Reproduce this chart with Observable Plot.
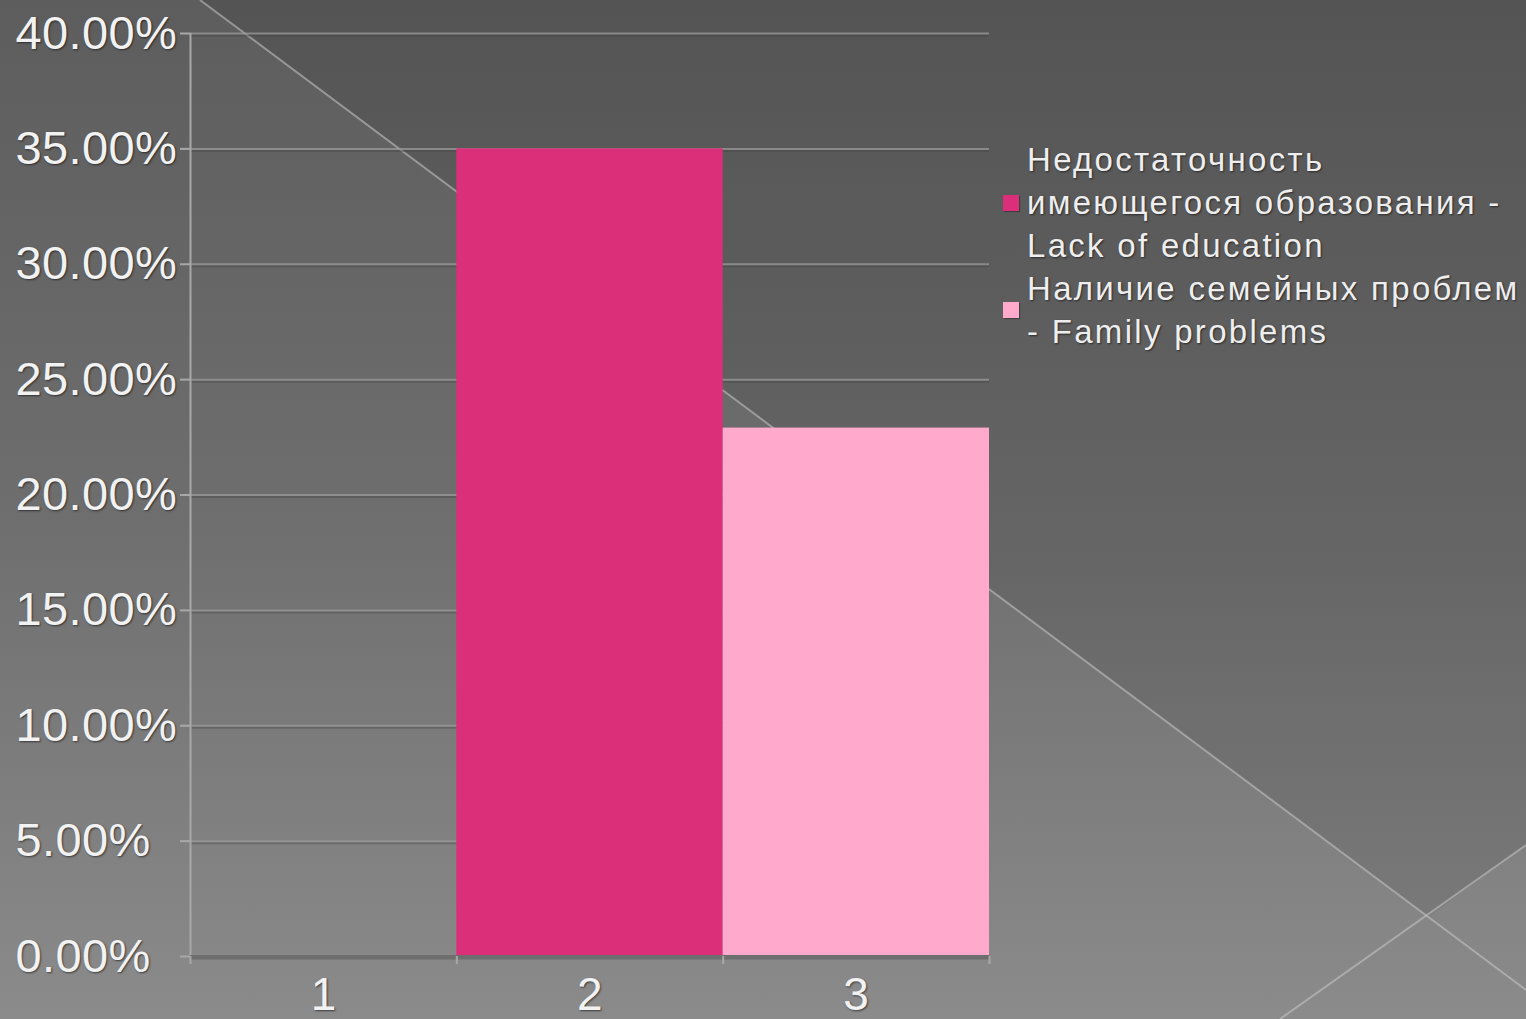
<!DOCTYPE html>
<html>
<head>
<meta charset="utf-8">
<script src="https://cdn.jsdelivr.net/npm/d3@7"></script>
<script src="https://cdn.jsdelivr.net/npm/@observablehq/plot@0.6"></script>
<style>
  html, body { margin: 0; padding: 0; }
  #stage {
    position: relative; width: 1526px; height: 1019px; overflow: hidden;
    background: linear-gradient(to bottom, #5d5d5d 0%, #6e6e6e 50%, #8b8b8b 100%);
    font-family: "Liberation Sans", Arial, sans-serif;
  }
  #deco { position: absolute; left: 0; top: 0; }
  #chart { position: absolute; left: 0; top: 0; }
  #chart svg text { text-shadow: 1px 1px 2px rgba(0,0,0,0.55); letter-spacing: 0.4px; }
  #legend {
    position: absolute; left: 1003px; top: 138px;
    color: #eeeeee; font-size: 33px; line-height: 43px;
    text-shadow: 1px 1px 2px rgba(0,0,0,0.55);
    letter-spacing: 2.3px;
  }
  .item { display: flex; align-items: center; }
  .sw { width: 16px; height: 16px; margin-right: 8px; flex: none; box-shadow: 1px 1px 1px rgba(0,0,0,0.3); }
  .lines { white-space: nowrap; }
</style>
</head>
<body>
<div id="stage">
  <svg id="deco" width="1526" height="1019"></svg>
  <div id="chart"></div>
  <div id="legend"></div>
</div>
<script>
// ---- data ----
const categories = [1, 2, 3];
const seriesNames = [
  "Недостаточность имеющегося образования - Lack of education",
  "Наличие семейных проблем - Family problems"
];
const seriesLegendLines = [
  ["Недостаточность", "имеющегося образования -", "Lack of education"],
  ["Наличие семейных проблем", "- Family problems"]
];
const seriesColors = ["#db2f7a", "#ffaacc"];
const barCategory = [2, 3];
const barValues = [0.35, 0.229];
const yTicks = [0, 0.05, 0.10, 0.15, 0.20, 0.25, 0.30, 0.35, 0.40];
const xBoundaries = [0.5, 1.5, 2.5, 3.5];

// ---- decorative background ----
const W = 1526, H = 1019;
const deco = d3.select("#deco");
deco.append("polygon")
  .attr("points", "200,0 1526,0 1526,845 1428,917")
  .attr("fill", "rgba(0,0,0,0.09)");
deco.append("line").attr("x1", 200).attr("y1", 0).attr("x2", 1526).attr("y2", 990)
  .attr("stroke", "rgba(200,200,200,0.55)").attr("stroke-width", 2);
deco.append("line").attr("x1", 1526).attr("y1", 845).attr("x2", 1280).attr("y2", 1019)
  .attr("stroke", "rgba(200,200,200,0.55)").attr("stroke-width", 2);

// ---- chart ----
const rows = barCategory.map((c, i) => ({cat: c, value: barValues[i], series: seriesNames[i]}));

const chart = Plot.plot({
  width: W, height: H,
  marginLeft: 190, marginRight: 537, marginTop: 33, marginBottom: 63,
  x: {domain: [0.5, 3.5], label: null},
  y: {domain: [0, 0.4], label: null},
  color: {domain: seriesNames, range: seriesColors},
  style: {background: "transparent", fontFamily: "'Liberation Sans', Arial, sans-serif", color: "#f2f2f2", overflow: "visible"},
  marks: [
    Plot.ruleY(yTicks, {stroke: "#3e3e3e", strokeOpacity: 0.35, strokeWidth: 2, dy: 2}),
    Plot.ruleY(yTicks, {stroke: "#9a9a9a", strokeOpacity: 0.75, strokeWidth: 2}),
    Plot.rect(rows, {x1: d => d.cat - 0.5, x2: d => d.cat + 0.5, y1: 0, y2: "value", fill: "series"}),
    Plot.ruleX([0.5], {stroke: "#a8a8a8", strokeWidth: 2}),
    Plot.ruleY([0], {stroke: "#6e6e6e", strokeWidth: 3}),
    Plot.axisY({ticks: yTicks, tickFormat: d3.format(".2%"), tickSize: 10, tickPadding: 165, label: null,
                textAnchor: "start", fontSize: 47, stroke: "#a8a8a8", strokeWidth: 2, fill: "#f2f2f2"}),
    Plot.axisX({ticks: xBoundaries, tickSize: 8, tickFormat: () => "", label: null, stroke: "#a8a8a8", strokeWidth: 2}),
    Plot.axisX({ticks: categories, tickSize: 0, tickPadding: 21, fontSize: 46, label: null, tickFormat: d => String(d), fill: "#f2f2f2"})
  ]
});
document.getElementById("chart").appendChild(chart);

// ---- legend ----
const legend = d3.select("#legend");
seriesNames.forEach((name, i) => {
  const item = legend.append("div").attr("class", "item");
  item.append("div").attr("class", "sw").style("background", seriesColors[i]);
  const lines = item.append("div").attr("class", "lines");
  seriesLegendLines[i].forEach(t => lines.append("div").text(t));
});
</script>
</body>
</html>
